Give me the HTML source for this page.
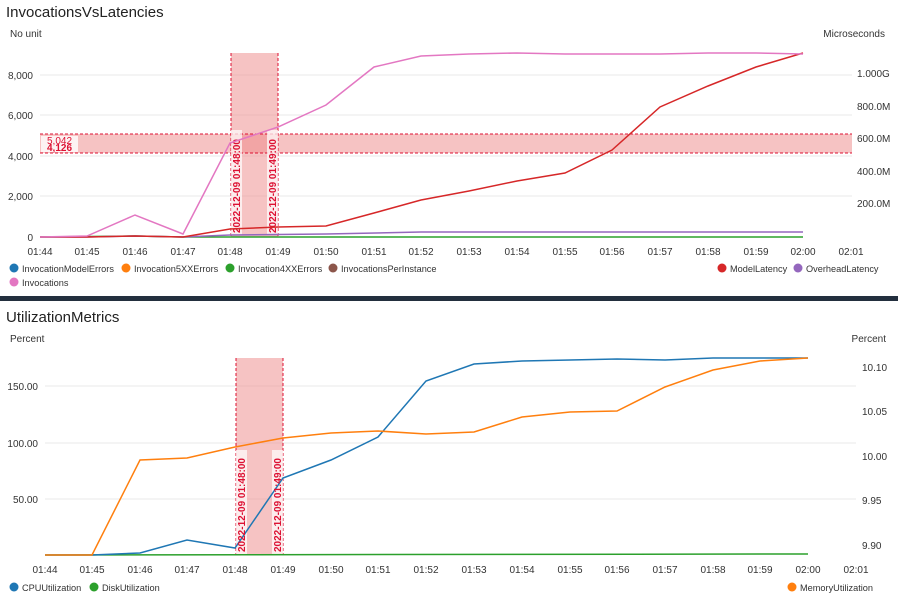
<!DOCTYPE html><html><head><style>body{margin:0;background:#fff;font-family:"Liberation Sans",sans-serif}svg text{font-family:"Liberation Sans",sans-serif}</style></head><body>
<svg width="898" height="599" xmlns="http://www.w3.org/2000/svg">
<rect width="898" height="599" fill="#fff"/>
<text x="6" y="17" font-size="15" fill="#222">InvocationsVsLatencies</text>
<text x="10" y="37" font-size="10" fill="#333">No unit</text>
<text x="885" y="37" font-size="10" fill="#333" text-anchor="end">Microseconds</text>
<g stroke="#eaeaea"><line x1="40" x2="852" y1="75" y2="75"/><line x1="40" x2="852" y1="115" y2="115"/><line x1="40" x2="852" y1="156" y2="156"/><line x1="40" x2="852" y1="196" y2="196"/></g>
<g font-size="10" fill="#333" text-anchor="end"><text x="33" y="79">8,000</text><text x="33" y="119">6,000</text><text x="33" y="160">4,000</text><text x="33" y="200">2,000</text><text x="33" y="241">0</text></g>
<g font-size="10" fill="#333"><text x="857" y="77">1.000G</text><text x="857" y="110">800.0M</text><text x="857" y="142">600.0M</text><text x="857" y="175">400.0M</text><text x="857" y="207">200.0M</text></g>
<g font-size="10" fill="#333" text-anchor="middle"><text x="40" y="255">01:44</text><text x="87" y="255">01:45</text><text x="135" y="255">01:46</text><text x="183" y="255">01:47</text><text x="230" y="255">01:48</text><text x="278" y="255">01:49</text><text x="326" y="255">01:50</text><text x="374" y="255">01:51</text><text x="421" y="255">01:52</text><text x="469" y="255">01:53</text><text x="517" y="255">01:54</text><text x="565" y="255">01:55</text><text x="612" y="255">01:56</text><text x="660" y="255">01:57</text><text x="708" y="255">01:58</text><text x="756" y="255">01:59</text><text x="803" y="255">02:00</text><text x="851" y="255">02:01</text></g>
<rect x="231" y="53" width="47" height="184" fill="#e88" opacity="0.5"/>
<rect x="40" y="134" width="812" height="19" fill="#e88" opacity="0.5"/>
<g stroke="#d13" stroke-dasharray="3,2" fill="none"><line x1="231" x2="231" y1="53" y2="237"/><line x1="278" x2="278" y1="53" y2="237"/><line x1="40" x2="852" y1="134" y2="134"/><line x1="40" x2="852" y1="153" y2="153"/></g>
<rect x="41" y="136" width="37" height="16" fill="#fff" opacity="0.8"/>
<text x="47" y="144" font-size="10" fill="#d13">5,042</text><text x="47" y="151" font-size="10" font-weight="bold" fill="#d13">4,126</text>
<rect x="231" y="130" width="11" height="105" fill="#fff" opacity="0.7"/><rect x="267" y="130" width="11" height="105" fill="#fff" opacity="0.7"/>
<text transform="translate(240,233) rotate(-90)" font-size="10" font-weight="bold" fill="#d13">2022-12-09 01:48:00</text>
<text transform="translate(276,233) rotate(-90)" font-size="10" font-weight="bold" fill="#d13">2022-12-09 01:49:00</text>
<polyline fill="none" stroke="#2ca02c" stroke-width="1.5" points="40,237 135,236 183,237 803,237"/>
<polyline fill="none" stroke="#9467bd" stroke-width="1.5" points="40,237 87,237 135,236 183,237 230,235 326,234 421,232 803,232"/>
<polyline fill="none" stroke="#d62728" stroke-width="1.5" points="40,237 87,237 135,236 183,237 230,229 278,227 326,226 374,213 421,200 469,191 517,181 565,173 612,150 660,107 708,86 756,67 803,53"/>
<polyline fill="none" stroke="#e377c2" stroke-width="1.5" points="40,237 87,236 135,215 183,234 230,143 278,127 326,105 374,67 421,56 469,54 517,53 565,54 612,54 660,54 708,53 756,53 803,54"/>
<g font-size="9.2" fill="#333">
<circle cx="14" cy="268" r="4.5" fill="#1f77b4"/><text x="22" y="272">InvocationModelErrors</text>
<circle cx="126" cy="268" r="4.5" fill="#ff7f0e"/><text x="134" y="272">Invocation5XXErrors</text>
<circle cx="230" cy="268" r="4.5" fill="#2ca02c"/><text x="238" y="272">Invocation4XXErrors</text>
<circle cx="333" cy="268" r="4.5" fill="#8c564b"/><text x="341" y="272">InvocationsPerInstance</text>
<circle cx="14" cy="282" r="4.5" fill="#e377c2"/><text x="22" y="286">Invocations</text>
<circle cx="722" cy="268" r="4.5" fill="#d62728"/><text x="730" y="272">ModelLatency</text>
<circle cx="798" cy="268" r="4.5" fill="#9467bd"/><text x="806" y="272">OverheadLatency</text>
</g>
<rect x="0" y="296" width="898" height="5" fill="#232f3e"/>
<text x="6" y="322" font-size="15" fill="#222">UtilizationMetrics</text>
<text x="10" y="342" font-size="10" fill="#333">Percent</text>
<text x="886" y="342" font-size="10" fill="#333" text-anchor="end">Percent</text>
<g stroke="#eaeaea"><line x1="45" x2="856" y1="386" y2="386"/><line x1="45" x2="856" y1="443" y2="443"/><line x1="45" x2="856" y1="499" y2="499"/></g>
<g font-size="10" fill="#333" text-anchor="end"><text x="38" y="390">150.00</text><text x="38" y="447">100.00</text><text x="38" y="503">50.00</text></g>
<g font-size="10" fill="#333"><text x="862" y="371">10.10</text><text x="862" y="415">10.05</text><text x="862" y="460">10.00</text><text x="862" y="504">9.95</text><text x="862" y="549">9.90</text></g>
<g font-size="10" fill="#333" text-anchor="middle"><text x="45" y="573">01:44</text><text x="92" y="573">01:45</text><text x="140" y="573">01:46</text><text x="187" y="573">01:47</text><text x="235" y="573">01:48</text><text x="283" y="573">01:49</text><text x="331" y="573">01:50</text><text x="378" y="573">01:51</text><text x="426" y="573">01:52</text><text x="474" y="573">01:53</text><text x="522" y="573">01:54</text><text x="570" y="573">01:55</text><text x="617" y="573">01:56</text><text x="665" y="573">01:57</text><text x="713" y="573">01:58</text><text x="760" y="573">01:59</text><text x="808" y="573">02:00</text><text x="856" y="573">02:01</text></g>
<rect x="236" y="358" width="47" height="197" fill="#e88" opacity="0.5"/>
<g stroke="#d13" stroke-dasharray="3,2"><line x1="236" x2="236" y1="358" y2="555"/><line x1="283" x2="283" y1="358" y2="555"/></g>
<rect x="236" y="450" width="11" height="104" fill="#fff" opacity="0.7"/><rect x="272" y="450" width="11" height="104" fill="#fff" opacity="0.7"/>
<polyline fill="none" stroke="#2ca02c" stroke-width="1.5" points="45,555 808,554"/>
<polyline fill="none" stroke="#1f77b4" stroke-width="1.5" points="45,555 92,555 140,553 187,540 235,548 283,478 331,460 378,437 426,381 474,364 522,361 570,360 617,359 665,360 713,358 760,358 808,358"/>
<polyline fill="none" stroke="#ff7f0e" stroke-width="1.5" points="45,555 92,555 140,460 187,458 235,447 283,438 331,433 378,431 426,434 474,432 522,417 570,412 617,411 665,387 713,370 760,361 808,358"/>
<text transform="translate(245,552) rotate(-90)" font-size="10" font-weight="bold" fill="#d13">2022-12-09 01:48:00</text>
<text transform="translate(281,552) rotate(-90)" font-size="10" font-weight="bold" fill="#d13">2022-12-09 01:49:00</text>
<g font-size="9.2" fill="#333">
<circle cx="14" cy="587" r="4.5" fill="#1f77b4"/><text x="22" y="591">CPUUtilization</text>
<circle cx="94" cy="587" r="4.5" fill="#2ca02c"/><text x="102" y="591">DiskUtilization</text>
<circle cx="792" cy="587" r="4.5" fill="#ff7f0e"/><text x="800" y="591">MemoryUtilization</text>
</g>
</svg></body></html>
